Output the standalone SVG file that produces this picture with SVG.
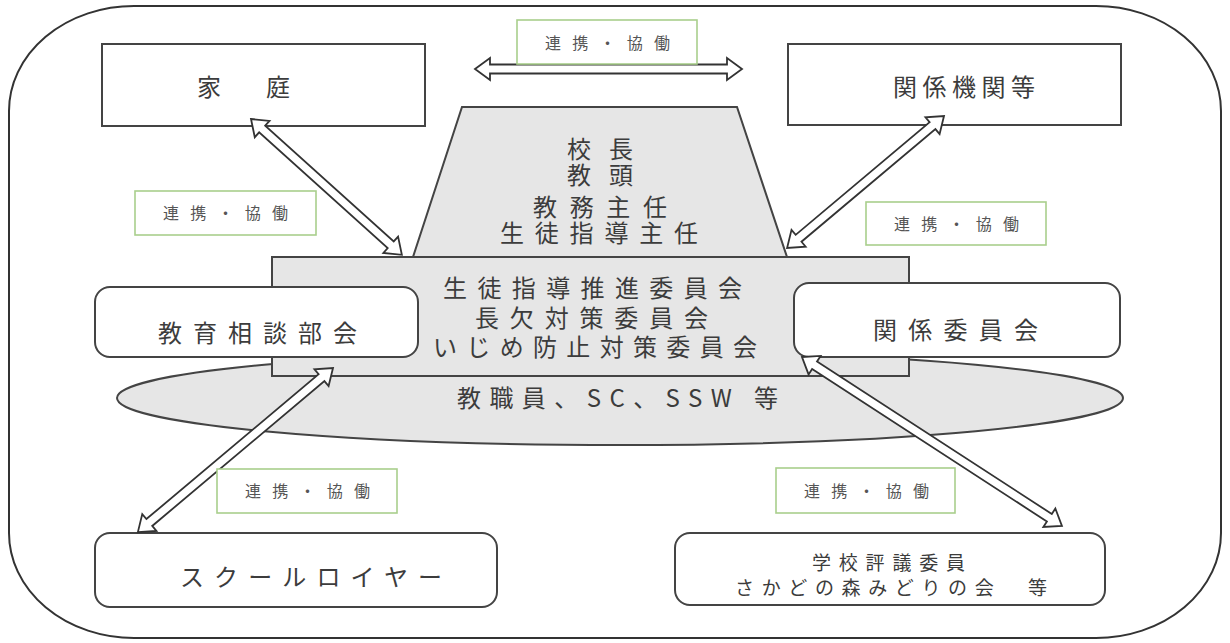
<svg xmlns="http://www.w3.org/2000/svg" width="1230" height="643" viewBox="0 0 1230 643">
<style>
.t{font-family:"Noto Sans CJK JP","Noto Sans",sans-serif;fill:#3c3c3c;}
.big{font-size:24px;}
.mid{font-size:19px;}
.lab{font-size:16px;fill:#555;}
.box{fill:#fff;stroke:#444;stroke-width:2;}
.gray{fill:#e6e6e6;stroke:#444;stroke-width:2;}
.lbox{fill:#fff;stroke:#a9cf8c;stroke-width:1.6;}
.arr{fill:#fff;stroke:#333;stroke-width:1.8;stroke-linejoin:miter;}
</style>
<rect id="frame" x="9" y="6" width="1212" height="632" rx="125" ry="105" fill="#fff" stroke="#333" stroke-width="2"/>

<g id="staff">
<ellipse cx="620" cy="398" rx="503" ry="47" class="gray"/>
<text class="t big" x="457" y="407" textLength="321" lengthAdjust="spacing">教職員、SC、SSW 等</text>
</g>

<g id="leaders">
<polygon points="462,107 737,107 787,257 413,257" class="gray"/>
<text class="t big" x="567" y="158" textLength="66" lengthAdjust="spacing">校長</text>
<text class="t big" x="567" y="184" textLength="66" lengthAdjust="spacing">教頭</text>
<text class="t big" x="533" y="216" textLength="134" lengthAdjust="spacing">教務主任</text>
<text class="t big" x="500" y="242" textLength="198" lengthAdjust="spacing">生徒指導主任</text>
</g>

<g id="committees">
<rect x="272" y="257" width="637" height="119" class="gray"/>
<text class="t big" x="443" y="297" textLength="299" lengthAdjust="spacing">生徒指導推進委員会</text>
<text class="t big" x="475" y="327" textLength="233" lengthAdjust="spacing">長欠対策委員会</text>
<text class="t big" x="433" y="356" textLength="324" lengthAdjust="spacing">いじめ防止対策委員会</text>
</g>

<g id="katei">
<rect x="102" y="44" width="323" height="82" class="box"/>
<text class="t big" x="197" y="96" textLength="93" lengthAdjust="spacing">家　庭</text>
</g>

<g id="kankeikikan">
<rect x="788" y="44" width="333" height="81" class="box"/>
<text class="t big" x="893" y="96" textLength="142" lengthAdjust="spacing">関係機関等</text>
</g>

<g id="kyoiku-sodan">
<rect x="95" y="287" width="323" height="70" rx="15" class="box"/>
<text class="t big" x="158" y="342" textLength="199" lengthAdjust="spacing">教育相談部会</text>
</g>

<g id="kankei-iinkai">
<rect x="794" y="283" width="326" height="74" rx="15" class="box"/>
<text class="t big" x="873" y="339" textLength="165" lengthAdjust="spacing">関係委員会</text>
</g>

<g id="school-lawyer">
<rect x="95" y="533" width="402" height="74" rx="15" class="box"/>
<text class="t big" x="180" y="586" textLength="262" lengthAdjust="spacing">スクールロイヤー</text>
</g>

<g id="hyogi">
<rect x="675" y="533" width="430" height="72" rx="15" class="box"/>
<text class="t mid" x="812" y="570" textLength="153" lengthAdjust="spacing">学校評議委員</text>
<text class="t mid" x="735" y="595" textLength="312" lengthAdjust="spacing">さかどの森みどりの会　等</text>
</g>

<g id="connectors">
<polygon class="arr" transform="translate(475,69)" points="0,0 15,-11 15,-4.5 252,-4.5 252,-11 267,0 252,11 252,4.5 15,4.5 15,11"/>
<polygon class="arr" transform="translate(251,119) rotate(42)" points="0,0 15,-11 15,-4.5 188,-4.5 188,-11 203,0 188,11 188,4.5 15,4.5 15,11"/>
<polygon class="arr" transform="translate(944,116) rotate(139.94)" points="0,0 15,-11 15,-4.5 190,-4.5 190,-11 205,0 190,11 190,4.5 15,4.5 15,11"/>
<polygon class="arr" transform="translate(333,368) rotate(139.93)" points="0,0 15,-11 15,-4.5 240,-4.5 240,-11 255,0 240,11 240,4.5 15,4.5 15,11"/>
<polygon class="arr" transform="translate(802,357) rotate(33.02)" points="0,0 15,-11 15,-4.5 295,-4.5 295,-11 310,0 295,11 295,4.5 15,4.5 15,11"/>
</g>

<g id="label-top">
<rect x="517" y="20" width="180" height="44" class="lbox"/>
<text class="t lab" x="545" y="49" textLength="125" lengthAdjust="spacing">連携・協働</text>
</g>
<g id="label-left">
<rect x="135" y="191" width="181" height="44" class="lbox"/>
<text class="t lab" x="163" y="219" textLength="125" lengthAdjust="spacing">連携・協働</text>
</g>
<g id="label-right">
<rect x="866" y="202" width="180" height="43" class="lbox"/>
<text class="t lab" x="894" y="230" textLength="125" lengthAdjust="spacing">連携・協働</text>
</g>
<g id="label-bottom-left">
<rect x="217" y="469" width="180" height="44" class="lbox"/>
<text class="t lab" x="245" y="497" textLength="125" lengthAdjust="spacing">連携・協働</text>
</g>
<g id="label-bottom-right">
<rect x="776" y="468" width="179" height="45" class="lbox"/>
<text class="t lab" x="804" y="497" textLength="125" lengthAdjust="spacing">連携・協働</text>
</g>
</svg>
